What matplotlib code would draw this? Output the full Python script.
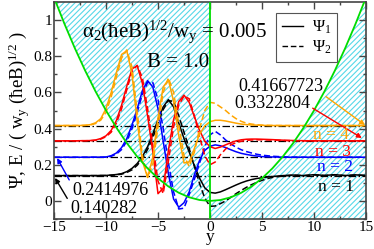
import matplotlib
matplotlib.use("Agg")
import matplotlib.pyplot as plt
from matplotlib.ticker import MultipleLocator

# y positions (x axis) shared by all wave functions
y_grid = [-15, -14, -13, -12.5, -12, -11.5, -11, -10.5, -10, -9.5, -9, -8.5, -8, -7.5, -7,
          -6.5, -6, -5.5, -5, -4.5, -4, -3.5, -3, -2.5, -2, -1.5, -1, -0.5, 0, 0.5, 1, 1.5,
          2, 2.5, 3, 3.5, 4, 4.5, 5, 5.5, 6, 7, 8, 9, 10, 11, 12, 13, 14, 15]

energies = [0.140282, 0.2414976, 0.3322804, 0.41667723]
energy_labels = ["0.140282", "0.2414976", "0.3322804", "0.41667723"]

psi1_n1 = [.140, .140, .140, .140, .140, .140, .140, .141, .141, .143, .146, .151, .162, .180, .207,
           .245, .300, .370, .450, .520, .560, .520, .430, .345, .270, .195, .125, .072, .047, .043,
           .050, .062, .075, .088, .100, .110, .118, .124, .128, .132, .135, .140, .143, .140, .145,
           .141, .145, .140, .144, .141]
psi2_n1 = [.140, .140, .140, .140, .140, .140, .140, .140, .140, .142, .144, .148, .157, .172, .197,
           .233, .285, .350, .430, .505, .555, .550, .470, .380, .290, .190, .095, .015, -.030, -.028,
           -.015, .000, .020, .040, .058, .075, .090, .103, .114, .123, .130, .138, .142, .140, .144,
           .140, .144, .140, .143, .140]

psi1_n2 = [.2415, .2415, .2415, .2415, .2415, .242, .242, .242, .243, .250, .265, .295, .345, .420, .510,
           .610, .665, .630, .510, .330, .150, .010, -.035, -.010, .050, .145, .225, .280, .302, .310,
           .305, .295, .283, .272, .263, .257, .252, .248, .245, .244, .243, .242, .2415, .2415, .2415,
           .2415, .2415, .2415, .2415, .2415]
psi2_n2 = [.2415, .2415, .2415, .2415, .2415, .2415, .2415, .2415, .242, .247, .259, .284, .330, .400, .490,
           .590, .655, .655, .560, .400, .210, .050, -.045, -.040, .035, .120, .210, .300, .365, .385,
           .365, .337, .315, .297, .283, .273, .265, .258, .253, .250, .247, .244, .242, .2415, .2415,
           .2415, .2415, .2415, .2415, .2415]

psi1_n3 = [.3323, .3323, .3323, .333, .333, .334, .337, .345, .360, .390, .445, .530, .635, .730, .748,
           .650, .470, .270, .040, .070, .280, .450, .550, .585, .545, .465, .390, .330, .300, .290,
           .298, .310, .322, .332, .338, .341, .342, .342, .341, .340, .339, .336, .334, .333, .3323,
           .3323, .3323, .3323, .3323, .3323]
psi2_n3 = [.3323, .3323, .3323, .333, .333, .333, .335, .342, .355, .380, .430, .510, .615, .715, .750,
           .680, .510, .310, .110, .040, .220, .410, .530, .580, .565, .470, .355, .250, .200, .215,
           .255, .287, .310, .322, .330, .335, .337, .338, .338, .337, .336, .334, .333, .3323, .3323,
           .3323, .3323, .3323, .3323, .3323]

psi1_n4 = [.4167, .4167, .417, .417, .418, .422, .432, .455, .510, .600, .710, .810, .830, .700, .440,
           .220, .130, .240, .460, .630, .670, .550, .360, .210, .215, .290, .370, .415, .438, .446,
           .446, .442, .436, .430, .425, .422, .420, .419, .418, .417, .417, .4167, .4167, .4167, .4167,
           .4167, .4167, .4167, .4167, .4167]
psi2_n4 = [.4167, .4167, .417, .417, .418, .420, .428, .447, .490, .575, .685, .790, .835, .740, .490,
           .250, .130, .200, .410, .600, .680, .600, .420, .250, .190, .270, .400, .500, .545, .540,
           .520, .500, .475, .455, .440, .430, .425, .421, .419, .418, .417, .4167, .4167, .4167, .4167,
           .4167, .4167, .4167, .4167, .4167]

# confining potential
pot_y = list(range(-15, 16))
pot_v = [1.125, .98, .845, .72, .605, .50, .405, .32, .245, .18, .125, .08, .045, .02, .005, 0.0,
         .005, .02, .045, .08, .125, .18, .245, .32, .405, .50, .605, .72, .845, .98, 1.125]

colors = ["black", "#0000ff", "#ff0000", "#ffa500"]
psi1_all = [psi1_n1, psi1_n2, psi1_n3, psi1_n4]
psi2_all = [psi2_n1, psi2_n2, psi2_n3, psi2_n4]

plt.rcParams["font.family"] = ["Liberation Serif", "DejaVu Serif"]
plt.rcParams["mathtext.default"] = "regular"
plt.rcParams["hatch.linewidth"] = 0.8

fig = plt.figure(figsize=(3.74, 2.49), dpi=100)
ax = fig.add_axes([54 / 374, 1 - 219 / 249, 312 / 374, 217 / 249])
ax.set_xlim(-15, 15)
ax.set_ylim(-0.1, 1.1)

hatch_col = "#55d8e8"
left = [i for i, y in enumerate(pot_y) if y <= 0]
right = [i for i, y in enumerate(pot_y) if y >= 0]
ax.fill_between([pot_y[i] for i in left], [pot_v[i] for i in left], 1.1,
                facecolor="none", edgecolor=hatch_col, hatch="//////", linewidth=0, zorder=0)
ax.fill_between([pot_y[i] for i in right], -0.1, [pot_v[i] for i in right],
                facecolor="none", edgecolor=hatch_col, hatch="//////", linewidth=0, zorder=0)

for e in energies:
    ax.axhline(e, color="black", lw=0.9, dashes=(6, 2, 1.2, 2), zorder=1)

for c, p1, p2 in zip(colors, psi1_all, psi2_all):
    ax.plot(y_grid, p1, color=c, lw=1.1, zorder=2)
    ax.plot(y_grid, p2, color=c, lw=1.1, dashes=(4, 2), zorder=2)

ax.plot(pot_y, pot_v, color="#00dd00", lw=1.3, zorder=3)
ax.axvline(0, color="#00dd00", lw=1.3, zorder=3)

# legend
ax.plot([], [], color="black", lw=1.0, label="Ψ$_1$")
ax.plot([], [], color="black", lw=1.0, dashes=(4, 2), label="Ψ$_2$")
leg = ax.legend(loc="upper right", bbox_to_anchor=(0.907, 0.949), borderaxespad=0,
                fancybox=False, fontsize=12, handlelength=1.3, handletextpad=0.5,
                labelspacing=0.15, borderpad=0.35, framealpha=1)
leg.get_frame().set_edgecolor("#555555")
leg.get_frame().set_linewidth(0.8)

ax.text(-12.3, 0.905, "α$_2$(ħeB)$^{1/2}$/w$_y$ = 0.005", fontsize=15, va="baseline")
ax.text(-6.06, 0.74, "B = 1.0", fontsize=15, va="baseline")

# energy annotations
ax.annotate(energy_labels[3], xy=(14.9, 0.42), xytext=(2.7, 0.635), fontsize=13, va="center",
            arrowprops=dict(arrowstyle="-|>", color="#ffa500", lw=1, shrinkA=0, shrinkB=0,
                            mutation_scale=7, relpos=(1, 0)))
ax.annotate(energy_labels[2], xy=(14.6, 0.348), xytext=(2.3, 0.541), fontsize=13, va="center",
            arrowprops=dict(arrowstyle="-|>", color="#ff0000", lw=1, shrinkA=0, shrinkB=0,
                            mutation_scale=7, relpos=(1, 0.3)))
ax.annotate(energy_labels[1], xy=(-14.7, 0.237), xytext=(-13.27, 0.06), fontsize=13, va="center",
            arrowprops=dict(arrowstyle="-|>", color="#0000ff", lw=1, shrinkA=0, shrinkB=0,
                            mutation_scale=7, relpos=(0, 0.8)))
ax.annotate(energy_labels[0], xy=(-14.9, 0.127), xytext=(-13.46, -0.04), fontsize=13, va="center",
            arrowprops=dict(arrowstyle="-|>", color="black", lw=1, shrinkA=0, shrinkB=0,
                            mutation_scale=7, relpos=(0, 0.8)))

n_pos = [(10.4, 0.077), (10.3, 0.187), (10.1, 0.27), (9.9, 0.365)]
for i, (c, (xx, yy)) in enumerate(zip(colors, n_pos)):
    ax.text(xx, yy, f"n = {i + 1}", color=c, fontsize=12.5, va="center")

ax.xaxis.set_major_locator(MultipleLocator(5))
ax.xaxis.set_minor_locator(MultipleLocator(2.5))
ax.yaxis.set_minor_locator(MultipleLocator(0.1))
ax.set_yticks([0, 0.2, 0.4, 0.6, 0.8, 1.0])
ax.set_yticklabels(["0", "0.2", "0.4", "0.6", "0.8", "1"])
ax.tick_params(which="both", direction="in", top=True, right=True, labelsize=11, color="#444444")
ax.tick_params(which="major", length=5, width=1, pad=1.5)
ax.tick_params(which="minor", length=2.5, width=1)
for s in ax.spines.values():
    s.set_color("#444444")
    s.set_linewidth(1.2)

ax.set_xlabel("y", fontsize=12.5)
ax.xaxis.set_label_coords(0.5, -0.046)
ax.set_ylabel("Ψ, E / ( w$_y$ (ħeB)$^{1/2}$ )", fontsize=13.5, labelpad=1)

fig.savefig("out.png", dpi=100)
